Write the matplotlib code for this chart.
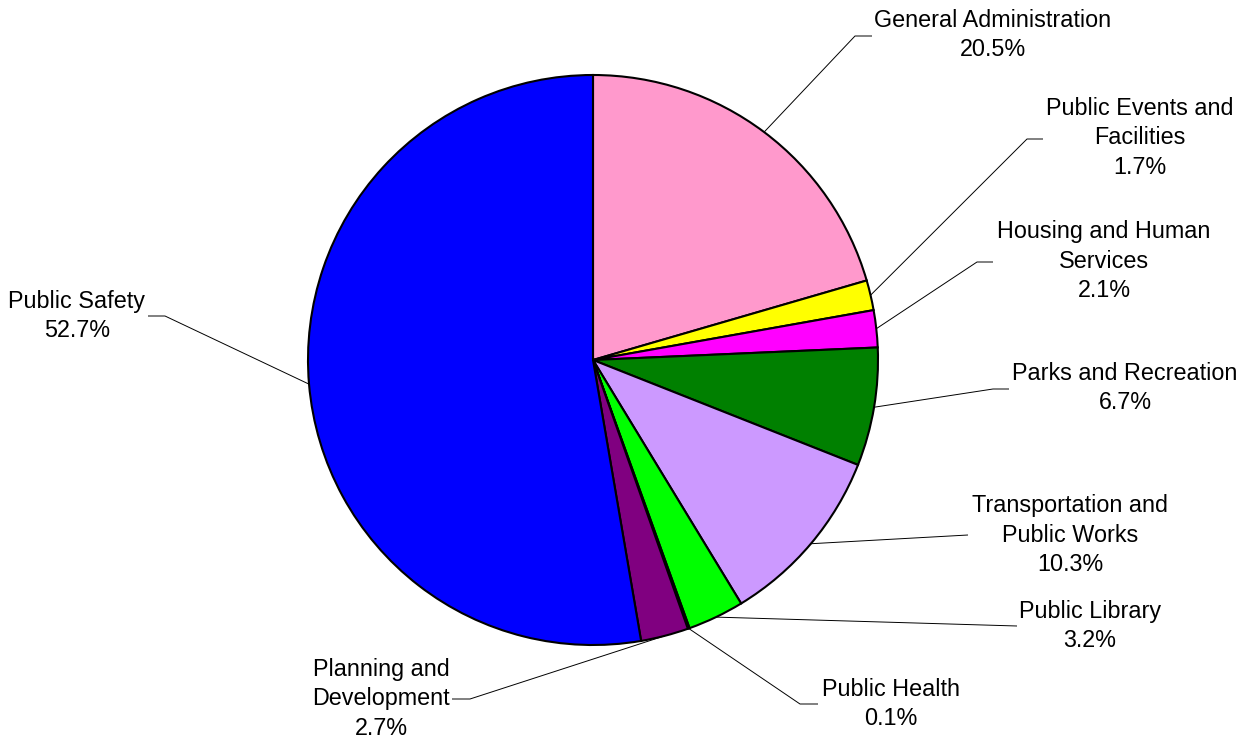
import numpy as np
import matplotlib
matplotlib.use('Agg')
import matplotlib.pyplot as plt

# Budget share by department, clockwise from the top
departments = ['General Administration', 'Public Events and\nFacilities',
               'Housing and Human\nServices', 'Parks and Recreation',
               'Transportation and\nPublic Works', 'Public Library',
               'Public Health', 'Planning and\nDevelopment', 'Public Safety']
shares = [20.5, 1.7, 2.1, 6.7, 10.3, 3.2, 0.1, 2.7, 52.7]
colors = ['#FF99CC', '#FFFF00', '#FF00FF', '#008000', '#CC99FF',
          '#00FF00', '#800080', '#800080', '#0000FF']

# label placement in pixel coords: text centre, elbow point, line end
label_xy = [(993, 35), (1140, 138), (1104, 261), (1125, 388), (1070, 535),
            (1090, 626), (891, 704), (381, 699), (77, 316)]
elbow_xy = [(855, 36), (1027, 139), (977, 262), (993, 389), (968, 535),
            (1017, 626), (800, 704), (470, 699), (165, 316)]
end_xy = [(872, 36), (1043, 139), (993, 262), (1009, 389), (968, 535),
          (1017, 626), (818, 704), (452, 699), (148, 316)]

W, H = 1255, 741
fig = plt.figure(figsize=(W / 100, H / 100), dpi=100)
ax = fig.add_axes([0, 0, 1, 1])

cx, cy, r = 593, H - 360, 285
wedges, _ = ax.pie(shares, colors=colors, startangle=90, counterclock=False,
                   center=(cx, cy), radius=r, frame=True,
                   wedgeprops=dict(edgecolor='black', linewidth=1.5))
ax.set_xlim(0, W)
ax.set_ylim(0, H)
ax.set_aspect('equal')
ax.axis('off')

for w, name, val, (tx, ty), (ex, ey), (lx, ly) in zip(
        wedges, departments, shares, label_xy, elbow_xy, end_xy):
    mid = np.deg2rad((w.theta1 + w.theta2) / 2)
    px, py = cx + r * np.cos(mid), cy + r * np.sin(mid)
    ax.plot([px, ex, lx], [py, H - ey, H - ly], color='black', lw=0.7,
            solid_capstyle='butt')
    ax.text(tx, H - ty, f'{name}\n{val:.1f}%', ha='center', va='center',
            fontsize=16.8, family='Liberation Sans', linespacing=1.37)

fig.savefig('out.png', dpi=100)
